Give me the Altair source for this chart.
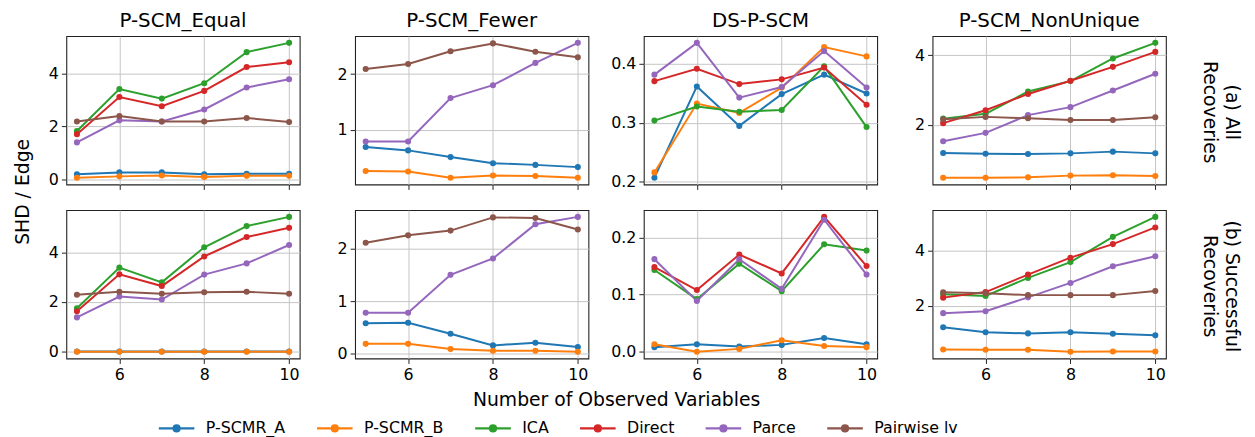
import altair as alt
import pandas as pd

X_VALUES = [5, 6, 7, 8, 9, 10]
SERIES = ["P-SCMR_A", "P-SCMR_B", "ICA", "Direct", "Parce", "Pairwise lv"]
COLORS = ["#1f77b4", "#ff7f0e", "#2ca02c", "#d62728", "#9467bd", "#8c564b"]
COL_TITLES = ["P-SCM_Equal", "P-SCM_Fewer", "DS-P-SCM", "P-SCM_NonUnique"]
ROW_LABELS = [["(a) All", "Recoveries"], ["(b) Successful", "Recoveries"]]

# Row (a): All Recoveries
EQUAL_ALL = {
    "P-SCMR_A": [0.20, 0.27, 0.27, 0.20, 0.22, 0.22],
    "P-SCMR_B": [0.07, 0.12, 0.15, 0.10, 0.14, 0.14],
    "ICA": [1.83, 3.41, 3.05, 3.63, 4.80, 5.15],
    "Direct": [1.71, 3.11, 2.76, 3.34, 4.24, 4.42],
    "Parce": [1.40, 2.23, 2.19, 2.64, 3.47, 3.78],
    "Pairwise lv": [2.19, 2.39, 2.19, 2.19, 2.32, 2.17],
}
FEWER_ALL = {
    "P-SCMR_A": [0.69, 0.63, 0.51, 0.40, 0.37, 0.33],
    "P-SCMR_B": [0.26, 0.25, 0.14, 0.18, 0.17, 0.14],
    "Parce": [0.79, 0.79, 1.57, 1.80, 2.20, 2.56],
    "Pairwise lv": [2.09, 2.18, 2.41, 2.55, 2.40, 2.30],
}
DS_ALL = {
    "P-SCMR_A": [0.207, 0.362, 0.295, 0.349, 0.382, 0.350],
    "P-SCMR_B": [0.216, 0.333, 0.317, 0.360, 0.429, 0.413],
    "ICA": [0.304, 0.328, 0.319, 0.322, 0.396, 0.293],
    "Direct": [0.371, 0.392, 0.366, 0.374, 0.394, 0.331],
    "Parce": [0.382, 0.436, 0.343, 0.361, 0.422, 0.360],
}
NONUNIQUE_ALL = {
    "P-SCMR_A": [1.19, 1.17, 1.16, 1.18, 1.23, 1.18],
    "P-SCMR_B": [0.48, 0.48, 0.49, 0.54, 0.55, 0.53],
    "ICA": [2.18, 2.32, 2.96, 3.26, 3.91, 4.36],
    "Direct": [2.05, 2.42, 2.89, 3.27, 3.67, 4.10],
    "Parce": [1.53, 1.77, 2.28, 2.51, 2.99, 3.47],
    "Pairwise lv": [2.16, 2.23, 2.19, 2.14, 2.14, 2.22],
}

# Row (b): Successful Recoveries
EQUAL_SUCC = {
    "P-SCMR_A": [0.01, 0.01, 0.01, 0.01, 0.01, 0.01],
    "P-SCMR_B": [0.00, 0.00, 0.00, 0.00, 0.00, 0.00],
    "ICA": [1.75, 3.38, 2.79, 4.20, 5.05, 5.42],
    "Direct": [1.63, 3.11, 2.64, 3.83, 4.61, 4.98],
    "Parce": [1.38, 2.22, 2.10, 3.10, 3.55, 4.29],
    "Pairwise lv": [2.29, 2.41, 2.33, 2.39, 2.41, 2.33],
}
FEWER_SUCC = {
    "P-SCMR_A": [0.58, 0.59, 0.38, 0.16, 0.21, 0.13],
    "P-SCMR_B": [0.19, 0.19, 0.09, 0.06, 0.06, 0.04],
    "Parce": [0.78, 0.78, 1.50, 1.81, 2.46, 2.60],
    "Pairwise lv": [2.11, 2.25, 2.34, 2.59, 2.58, 2.36],
}
DS_SUCC = {
    "P-SCMR_A": [0.008, 0.013, 0.009, 0.012, 0.024, 0.013],
    "P-SCMR_B": [0.013, 0.000, 0.005, 0.020, 0.010, 0.008],
    "ICA": [0.143, 0.092, 0.154, 0.106, 0.188, 0.177],
    "Direct": [0.148, 0.108, 0.170, 0.137, 0.236, 0.150],
    "Parce": [0.162, 0.089, 0.162, 0.110, 0.231, 0.135],
}
NONUNIQUE_SUCC = {
    "P-SCMR_A": [1.23, 1.05, 1.01, 1.05, 1.00, 0.94],
    "P-SCMR_B": [0.43, 0.42, 0.42, 0.35, 0.36, 0.36],
    "ICA": [2.42, 2.36, 3.01, 3.58, 4.49, 5.21],
    "Direct": [2.30, 2.50, 3.13, 3.74, 4.23, 4.83],
    "Parce": [1.74, 1.81, 2.31, 2.83, 3.43, 3.79],
    "Pairwise lv": [2.49, 2.46, 2.39, 2.39, 2.39, 2.54],
}

PANELS = [
    [EQUAL_ALL, FEWER_ALL, DS_ALL, NONUNIQUE_ALL],
    [EQUAL_SUCC, FEWER_SUCC, DS_SUCC, NONUNIQUE_SUCC],
]
Y_TICKS = [
    [[0, 2, 4], [1, 2], [0.2, 0.3, 0.4], [2, 4]],
    [[0, 2, 4], [0, 1, 2], [0.0, 0.1, 0.2], [2, 4]],
]
Y_FORMATS = [["d", "d", ".1f", "d"], ["d", "d", ".1f", "d"]]
X_TICKS = [6, 8, 10]

W, H = 236, 150
FONT = "DejaVu Sans"
SYMBOL = "M-1,0H1M0.17,0A0.17,0.17,0,1,1,-0.17,0A0.17,0.17,0,1,1,0.17,0Z"


def make_panel(r, c):
    data = PANELS[r][c]
    rows = []
    for s in SERIES:
        if s in data:
            for xv, yv in zip(X_VALUES, data[s]):
                rows.append({"n": xv, "v": yv, "method": s, "k": SERIES.index(s)})
    df = pd.DataFrame(rows)
    lo, hi = df["v"].min(), df["v"].max()
    pad = 0.05 * (hi - lo)

    x_axis = dict(values=X_TICKS, labels=(r == 1), grid=True, domain=False,
                  tickSize=5, labelPadding=3)
    y_axis = dict(values=Y_TICKS[r][c], format=Y_FORMATS[r][c], grid=True,
                  domain=False, tickSize=5, labelPadding=3)
    if r == 0 and c == 0:
        y_axis.update(title="SHD / Edge", titleY=157, titlePadding=16)
    else:
        y_axis.update(title=None)
    if r == 1 and c == 1:
        x_axis.update(title="Number of Observed Variables", titleX=264,
                      titlePadding=9)
    else:
        x_axis.update(title=None)

    legend = alt.Legend(
        orient="none", direction="horizontal", columns=6, legendX=92,
        legendY=377, title=None, symbolType=SYMBOL, symbolSize=1296,
        symbolStrokeWidth=2.2, labelFont=FONT, labelFontSize=16,
        labelOffset=10, columnPadding=27, labelLimit=300,
        symbolFillColor="#000",
    )

    lines = alt.Chart(df).mark_line(
        strokeWidth=2,
        point=alt.OverlayMarkDef(filled=True, size=38, opacity=1),
    ).encode(
        x=alt.X("n:Q", scale=alt.Scale(domain=[4.75, 10.25], nice=False, zero=False),
                axis=alt.Axis(**x_axis)),
        y=alt.Y("v:Q", scale=alt.Scale(domain=[lo - pad, hi + pad], nice=False, zero=False),
                axis=alt.Axis(**y_axis)),
        color=alt.Color("method:N", scale=alt.Scale(domain=SERIES, range=COLORS),
                        legend=legend, sort=SERIES),
        order=alt.Order("k:Q"),
    )
    layers = [lines]
    if c == 3:
        lab = alt.Chart(pd.DataFrame({"t": [0]})).mark_text(
            angle=90, font=FONT, fontSize=19, align="center", baseline="middle",
            lineHeight=22, color="#000",
        ).encode(x=alt.value(W + 67), y=alt.value(H / 2 + 2), text=alt.value(ROW_LABELS[r]))
        layers.append(lab)
    props = dict(width=W, height=H)
    if r == 0:
        props["title"] = alt.TitleParams(COL_TITLES[c], font=FONT, fontSize=20,
                                         fontWeight="normal", offset=5, color="#000")
    return alt.layer(*layers).properties(**props)


panels = [make_panel(r, c) for r in range(2) for c in range(4)]

chart = alt.concat(
    *panels, columns=4, spacing={"row": 26, "column": 56}, bounds="flush"
).properties(
    background="white", padding={"top": 0, "left": 5, "right": 5, "bottom": 0}
).configure_view(
    stroke="#222", strokeWidth=1.1
).configure_axis(
    labelFont=FONT, labelFontSize=16, labelColor="#000", tickColor="#222",
    gridColor="#c4c4c4", gridWidth=1, titleFont=FONT, titleFontSize=19,
    titleFontWeight="normal", titleColor="#000",
)

chart.save("out.html", embed_options={"renderer": "svg", "actions": False})
